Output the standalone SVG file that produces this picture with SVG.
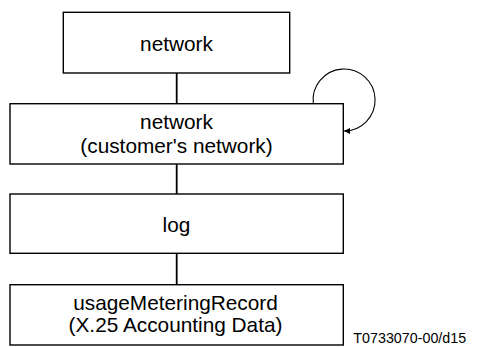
<svg xmlns="http://www.w3.org/2000/svg" width="477" height="347" viewBox="0 0 477 347">
<style>
.box{fill:#fff;stroke:#000;stroke-width:1.4}
.t{font-family:"Liberation Sans",Arial,sans-serif;font-size:20.8px;fill:#000;text-anchor:middle}
.lbl{font-family:"Liberation Sans",Arial,sans-serif;font-size:14.3px;fill:#000}
.conn{stroke:#000;stroke-width:1.8;fill:none}
.loop{stroke:#000;stroke-width:1.1;fill:none}
</style>
<defs>
<marker id="ah" viewBox="0 0 10 10" refX="10" refY="5" markerWidth="6" markerHeight="6" markerUnits="userSpaceOnUse" orient="auto">
<path d="M0,0 L10,5 L0,10 z" fill="#000"/>
</marker>
</defs>
<rect width="477" height="347" fill="#fff"/>
<g id="connectors">
<line class="conn" x1="176.7" y1="73" x2="176.7" y2="103.7"/>
<line class="conn" x1="176.7" y1="164" x2="176.7" y2="194"/>
<line class="conn" x1="176.7" y1="253.3" x2="176.7" y2="284.7"/>
<path class="loop" d="M313.3,103.7 A31,31 0 1 1 344,131" marker-end="url(#ah)"/>
</g>
<g id="n1">
<rect class="box" x="63.3" y="12.3" width="226.4" height="60.7"/>
<text class="t" x="176.5" y="51">network</text>
</g>
<g id="n2">
<rect class="box" x="10" y="103.7" width="333.3" height="60.3"/>
<text class="t" x="176.5" y="129">network</text>
<text class="t" x="176.5" y="153">(customer's network)</text>
</g>
<g id="n3">
<rect class="box" x="10" y="194" width="333.3" height="59.3"/>
<text class="t" x="176.5" y="231.5">log</text>
</g>
<g id="n4">
<rect class="box" x="10" y="284.7" width="333.3" height="60.3"/>
<text class="t" x="175.5" y="310">usageMeteringRecord</text>
<text class="t" x="175.5" y="332">(X.25 Accounting Data)</text>
</g>
<text class="lbl" x="353.3" y="343.3">T0733070-00/d15</text>
</svg>
